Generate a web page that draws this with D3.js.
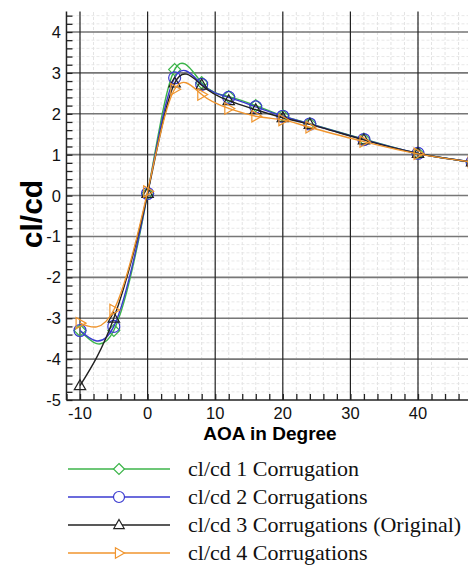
<!DOCTYPE html>
<html>
<head>
<meta charset="utf-8">
<script src="https://cdn.jsdelivr.net/npm/d3@7"></script>
<style>
  body { margin: 0; background: #fff; }
  svg { display: block; }
</style>
</head>
<body>
<div id="chart"></div>
<script>
// angle of attack, degrees
const aoa = [-10, -5, 0, 4, 8, 12, 16, 20, 24, 32, 40, 48];

const corr1 = [-3.3, -3.3, 0.05, 3.08, 2.76, 2.42, 2.2, 1.95, 1.76, 1.38, 1.03, 0.82];
const corr2 = [-3.3, -3.2, 0.05, 2.88, 2.72, 2.4, 2.17, 1.94, 1.75, 1.37, 1.03, 0.82];
const corr3 = [-4.65, -3.0, 0.05, 2.75, 2.7, 2.32, 2.1, 1.9, 1.74, 1.36, 1.03, 0.82];
const corr4 = [-3.12, -2.8, 0.1, 2.6, 2.47, 2.13, 1.94, 1.85, 1.67, 1.32, 1.02, 0.82];

const seriesNames = ['cl/cd 1 Corrugation', 'cl/cd 2 Corrugations',
    'cl/cd 3 Corrugations (Original)', 'cl/cd 4 Corrugations'];
const seriesColors = ['#3cb54a', '#3a3ad0', '#222222', '#f0952e'];
const seriesMarkers = ['diamond', 'circle', 'triangle', 'right'];
const yTicks = [-5, -4, -3, -2, -1, 0, 1, 2, 3, 4];
const xTicks = [-10, 0, 10, 20, 30, 40];

const allSeries = [corr1, corr2, corr3, corr4].map((vals, i) => ({
    name: seriesNames[i],
    color: seriesColors[i],
    marker: seriesMarkers[i],
    points: aoa.map((a, j) => ({x: a, y: vals[j]}))
}));

let width = 468, height = 565;

let svg = d3.select('#chart').append('svg')
    .attr('width', width)
    .attr('height', height)
    .style('font-family', 'Liberation Sans, Arial, sans-serif');

let xScale = d3.scaleLinear().domain([-10, 40]).range([80, 418]);
let yScale = d3.scaleLinear().domain([-5, 4]).range([400, 32]);

let xMin = -12, xMax = 48, yMin = -5, yMax = 4.5;

svg.append('defs').append('clipPath').attr('id', 'plotclip')
    .append('rect')
    .attr('x', xScale(xMin))
    .attr('y', yScale(yMax))
    .attr('width', xScale(xMax) - xScale(xMin))
    .attr('height', yScale(yMin) - yScale(yMax));

// minor grid
let grid = svg.append('g').attr('class', 'grid');
grid.selectAll('.vminor')
    .data(d3.range(-10, 48, 2))
    .join('line')
    .attr('x1', d => xScale(d)).attr('x2', d => xScale(d))
    .attr('y1', yScale(yMin)).attr('y2', yScale(yMax))
    .attr('stroke', '#dcdcdc')
    .attr('stroke-width', 0.8)
    .attr('stroke-dasharray', '3,2');
grid.selectAll('.hminor')
    .data(d3.range(-4.8, 4.5, 0.2))
    .join('line')
    .attr('x1', xScale(xMin)).attr('x2', width)
    .attr('y1', d => yScale(d)).attr('y2', d => yScale(d))
    .attr('stroke', '#e2e2e2')
    .attr('stroke-width', 0.8)
    .attr('stroke-dasharray', '3,2');

// major grid
grid.selectAll('.hmajor')
    .data(yTicks.slice(1))
    .join('line')
    .attr('x1', xScale(xMin)).attr('x2', width)
    .attr('y1', d => yScale(d)).attr('y2', d => yScale(d))
    .attr('stroke', '#777')
    .attr('stroke-width', 1.6);
grid.selectAll('.vmajor')
    .data(xTicks)
    .join('line')
    .attr('x1', d => xScale(d)).attr('x2', d => xScale(d))
    .attr('y1', yScale(yMin)).attr('y2', yScale(yMax))
    .attr('stroke', '#222')
    .attr('stroke-width', 1.2);

// axes
let yAxis = svg.append('g')
    .attr('transform', `translate(${xScale(xMin)}, 0)`)
    .call(d3.axisRight(yScale).tickValues(d3.range(-5, 4.51, 0.2)).tickSize(6).tickFormat(''));
yAxis.select('.domain').remove();
yAxis.selectAll('line').attr('stroke', '#222').attr('stroke-width', 1.3);

let xAxis = svg.append('g')
    .attr('transform', `translate(0, ${yScale(yMin)})`)
    .call(d3.axisTop(xScale).tickValues(d3.range(-12, 48, 2)).tickSize(6).tickFormat(''));
xAxis.select('.domain').remove();
xAxis.selectAll('line').attr('stroke', '#222').attr('stroke-width', 1.3);

svg.append('line')
    .attr('x1', xScale(xMin)).attr('x2', xScale(xMin))
    .attr('y1', yScale(yMin)).attr('y2', yScale(yMax))
    .attr('stroke', '#222').attr('stroke-width', 1.5);
svg.append('line')
    .attr('x1', xScale(xMin)).attr('x2', width)
    .attr('y1', yScale(yMin)).attr('y2', yScale(yMin))
    .attr('stroke', '#222').attr('stroke-width', 1.5);

svg.append('g').selectAll('text')
    .data(yTicks)
    .join('text')
    .attr('x', 61)
    .attr('y', d => yScale(d) + 6)
    .attr('text-anchor', 'end')
    .attr('font-size', '16.5px')
    .attr('fill', '#111')
    .text(d => d);

svg.append('g').selectAll('text')
    .data(xTicks)
    .join('text')
    .attr('x', d => xScale(d))
    .attr('y', yScale(yMin) + 19)
    .attr('text-anchor', 'middle')
    .attr('font-size', '16.5px')
    .attr('fill', '#111')
    .text(d => d);

svg.append('text')
    .attr('x', 270)
    .attr('y', 440)
    .attr('text-anchor', 'middle')
    .attr('font-size', '19px')
    .attr('font-weight', 'bold')
    .text('AOA in Degree');

svg.append('text')
    .attr('transform', `translate(42, 214) rotate(-90)`)
    .attr('text-anchor', 'middle')
    .attr('font-size', '30px')
    .attr('font-weight', 'bold')
    .text('cl/cd');

// series
let line = d3.line()
    .x(d => xScale(d.x))
    .y(d => yScale(d.y))
    .curve(d3.curveNatural);

function markerPath(type, r) {
    if (type === 'circle') return d3.symbol(d3.symbolCircle, Math.PI * r * r)();
    if (type === 'diamond') return `M0,${-r}L${r},0L0,${r}L${-r},0Z`;
    if (type === 'triangle') return `M0,${-r}L${r * 0.95},${r * 0.65}L${-r * 0.95},${r * 0.65}Z`;
    return `M${r},0L${-r * 0.65},${-r * 0.95}L${-r * 0.65},${r * 0.95}Z`;
}

let plot = svg.append('g').attr('clip-path', 'url(#plotclip)');

allSeries.forEach(s => {
    let g = plot.append('g');
    g.append('path')
        .datum(s.points)
        .attr('d', line)
        .attr('fill', 'none')
        .attr('stroke', s.color)
        .attr('stroke-width', 1.4);
    g.selectAll('path.mk')
        .data(s.points)
        .join('path')
        .attr('class', 'mk')
        .attr('transform', d => `translate(${xScale(d.x)}, ${yScale(d.y)})`)
        .attr('d', markerPath(s.marker, 6))
        .attr('fill', 'none')
        .attr('stroke', s.color)
        .attr('stroke-width', 1.2);
});

// legend
let legend = svg.append('g').attr('transform', 'translate(68, 469)');
let rows = legend.selectAll('g')
    .data(allSeries)
    .join('g')
    .attr('transform', (d, i) => `translate(0, ${i * 28})`);
rows.append('line')
    .attr('x1', 0).attr('x2', 102)
    .attr('stroke', d => d.color)
    .attr('stroke-width', 1.4);
rows.append('path')
    .attr('transform', 'translate(51, 0)')
    .attr('d', d => markerPath(d.marker, 5.5))
    .attr('fill', '#fff')
    .attr('stroke', d => d.color)
    .attr('stroke-width', 1.2);
rows.append('text')
    .attr('x', 120)
    .attr('y', 7)
    .attr('font-family', 'Liberation Serif, Times New Roman, serif')
    .attr('font-size', '22px')
    .attr('fill', '#111')
    .text(d => d.name);
</script>
</body>
</html>
